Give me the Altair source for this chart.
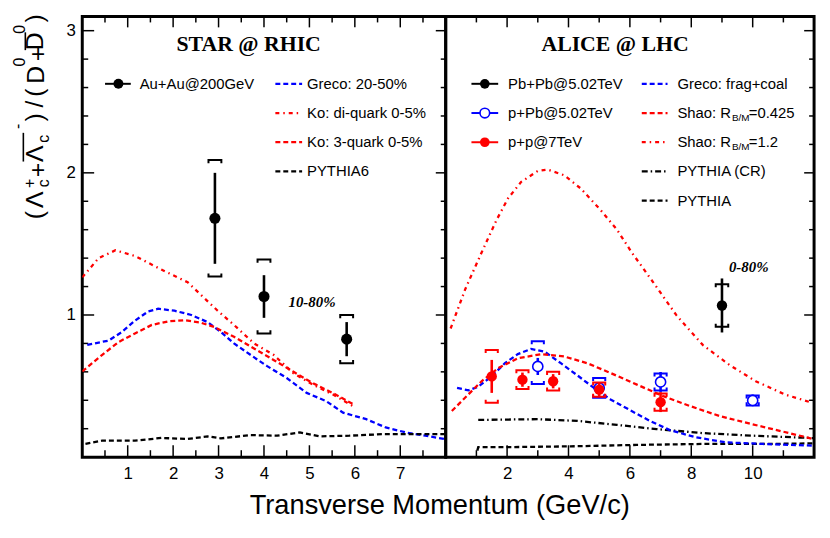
import altair as alt
import pandas as pd

FONT = "Liberation Sans"
SERIF = "Liberation Serif"
RED = "#ff0000"
BLUE = "#0000ff"
BLACK = "#000000"

# ---------------- STAR @ RHIC (left panel) ----------------
star_pt = [2.92, 4.00, 5.82]
star_val = [1.68, 1.13, 0.83]
star_stat = [0.32, 0.15, 0.12]
star_sys = [0.41, 0.26, 0.17]

greco_star_pt = [0.11, 0.58, 0.87, 1.16, 1.45, 1.67, 2.03, 2.40, 2.76, 3.05, 3.34,
                 3.70, 4.07, 4.50, 4.94, 5.37, 5.74, 6.25, 6.68, 7.12, 7.55, 7.99]
greco_star_val = [0.79, 0.82, 0.88, 0.96, 1.025, 1.044, 1.03, 1.00, 0.95, 0.88, 0.80,
                  0.72, 0.64, 0.557, 0.452, 0.394, 0.313, 0.267, 0.209, 0.174, 0.151, 0.127]

ko_di_pt = [0.0, 0.36, 0.73, 1.16, 1.74, 2.32, 2.98, 3.34, 3.78, 4.21, 4.65, 5.08, 5.52, 5.99]
ko_di_val = [1.265, 1.40, 1.455, 1.415, 1.32, 1.23, 1.03, 0.93, 0.80, 0.72, 0.59, 0.51, 0.44, 0.353]

ko3_pt = [0.0, 0.44, 0.80, 1.16, 1.53, 1.89, 2.25, 2.61, 2.90, 3.34, 3.78, 4.21, 4.65, 5.08, 5.52, 5.95]
ko3_val = [0.603, 0.72, 0.81, 0.87, 0.93, 0.955, 0.963, 0.946, 0.916, 0.847, 0.765, 0.684,
           0.60, 0.52, 0.45, 0.375]

pythia6_pt = [0.07, 0.44, 1.16, 1.74, 2.32, 2.76, 3.05, 3.70, 4.29, 4.79, 5.23, 5.88, 6.61, 7.33, 7.99]
pythia6_val = [0.093, 0.116, 0.116, 0.135, 0.128, 0.146, 0.132, 0.155, 0.151, 0.174, 0.146,
               0.151, 0.162, 0.162, 0.162]

# ---------------- ALICE @ LHC (right panel) ----------------
pbpb_pt = [9.0]
pbpb_val = [1.067]
pbpb_stat = [0.19]
pbpb_sys = [0.15]

ppb_pt = [3.0, 5.0, 7.0, 10.0]
ppb_val = [0.638, 0.487, 0.529, 0.399]
ppb_stat = [0.06, 0.04, 0.07, 0.04]
ppb_sys_up = [0.178, 0.07, 0.06, 0.035]
ppb_sys_dn = [0.123, 0.07, 0.06, 0.035]

pp_pt = [1.5, 2.5, 3.5, 5.0, 7.0]
pp_val = [0.568, 0.545, 0.534, 0.475, 0.387]
pp_stat = [0.116, 0.05, 0.05, 0.05, 0.07]
pp_sys = [0.186, 0.066, 0.066, 0.05, 0.06]

greco_alice_pt = [0.37, 0.74, 1.06, 1.49, 1.93, 2.35, 2.78, 3.22, 3.75, 4.29, 4.83, 5.37,
                  6.01, 6.65, 7.30, 8.16, 9.13, 10.31, 11.93]
greco_alice_val = [0.487, 0.470, 0.495, 0.568, 0.661, 0.725, 0.761, 0.742, 0.661, 0.575, 0.487,
                   0.406, 0.330, 0.255, 0.19, 0.139, 0.104, 0.093, 0.081]

shao1_pt = [0.20, 0.63, 1.17, 1.71, 2.35, 3.11, 3.86, 4.61, 5.37, 6.23, 7.09, 7.95, 8.91,
            9.88, 10.96, 11.98]
shao1_val = [0.325, 0.418, 0.534, 0.626, 0.696, 0.724, 0.708, 0.661, 0.592, 0.51, 0.429,
             0.36, 0.29, 0.237, 0.181, 0.127]

shao2_pt = [0.16, 0.64, 1.17, 1.66, 2.03, 2.46, 3.00, 3.32, 3.86, 4.40, 5.04, 5.58, 6.06,
            6.76, 7.52, 8.38, 9.24, 10.10, 11.06, 11.93]
shao2_val = [0.905, 1.183, 1.44, 1.67, 1.82, 1.937, 2.013, 2.023, 1.983, 1.89, 1.74, 1.60,
             1.44, 1.23, 0.997, 0.788, 0.649, 0.534, 0.44, 0.383]

pythia_cr_pt = [1.06, 3.00, 4.29, 5.58, 6.87, 8.38, 9.99, 11.98]
pythia_cr_val = [0.262, 0.267, 0.255, 0.227, 0.197, 0.169, 0.151, 0.134]

pythia_pt = [1.03, 1.06, 1.93, 4.07, 6.23, 8.38, 10.53, 11.98]
pythia_val = [0.046, 0.070, 0.070, 0.076, 0.086, 0.093, 0.093, 0.097]

# axis tick values
y_major = [1, 2, 3]
y_minor = [0.2, 0.4, 0.6, 0.8, 1.2, 1.4, 1.6, 1.8, 2.2, 2.4, 2.6, 2.8]
x1_major = [1, 2, 3, 4, 5, 6, 7]
x1_minor = [0.5, 1.5, 2.5, 3.5, 4.5, 5.5, 6.5, 7.5]
x2_major = [2, 4, 6, 8, 10]
x2_minor = [1, 3, 5, 7, 9, 11]

# ---------------- layout / style ----------------
W1, W2, H = 367, 372, 445
LW = 2.3
DASH = [5, 3]
DASHDOT = [4, 4, 1.5, 4]
DASHDOT2 = [6, 3, 1.5, 3]
TOP = "M -1 0.5 L -1 0 L 1 0 L 1 0.5"
BOT = "M -1 -0.5 L -1 0 L 1 0 L 1 -0.5"

ysc = alt.Scale(domain=[0, 3.1], nice=False, zero=False)
xs1 = alt.Scale(domain=[0, 8], nice=False, zero=False)
xs2 = alt.Scale(domain=[0, 12], nice=False, zero=False)


def xaxis(vals):
    return alt.Axis(values=vals, ticks=False, tickSize=0, domain=False, grid=False,
                    labelFontSize=17, labelPadding=9, labelFont=FONT, labelColor=BLACK,
                    format="d", title=None)


yaxis_left = alt.Axis(values=y_major, ticks=False, tickSize=0, domain=False, grid=False,
                      labelFontSize=17, labelPadding=7, labelFont=FONT, labelColor=BLACK,
                      format="d", title=None)


def make_enc(xscale, xvals, yaxis):
    def X(f):
        return alt.X(f"{f}:Q", scale=xscale, axis=xaxis(xvals))

    def Y(f):
        if yaxis is None:
            return alt.Y(f"{f}:Q", scale=ysc, axis=None)
        return alt.Y(f"{f}:Q", scale=ysc, axis=yaxis)
    return X, Y


one = pd.DataFrame({"k": [0]})


def txt(s, x, y, size=15, font=FONT, weight="normal", style="normal", align="left",
        baseline="middle", angle=0, color=BLACK):
    return alt.Chart(one).mark_text(text=s, fontSize=size, font=font, fontWeight=weight,
                                    fontStyle=style, align=align, baseline=baseline,
                                    angle=angle, color=color).encode(
        x=alt.value(x), y=alt.value(y))


def lline(x1, x2, y, color, dash=None, width=LW):
    kw = dict(color=color, strokeWidth=width)
    if dash is not None:
        kw["strokeDash"] = dash
    return alt.Chart(one).mark_rule(**kw).encode(x=alt.value(x1), x2=alt.value(x2), y=alt.value(y))


def vline(x, y1, y2, width=1.6):
    return alt.Chart(one).mark_rule(color=BLACK, strokeWidth=width).encode(
        x=alt.value(x), y=alt.value(y1), y2=alt.value(y2))


def lmarker(x, y, color, filled=True, size=100):
    if filled:
        m = alt.Chart(one).mark_point(shape="circle", filled=True, color=color, size=size, opacity=1)
    else:
        m = alt.Chart(one).mark_point(shape="circle", filled=True, fill="white", stroke=color,
                                      strokeWidth=1.6, size=size, opacity=1)
    return m.encode(x=alt.value(x), y=alt.value(y))


def curve(xs, ys, color, dash, X, Y):
    df = pd.DataFrame({"x": xs, "y": ys})
    df["i"] = range(len(df))
    return alt.Chart(df).mark_line(color=color, strokeDash=dash, strokeWidth=LW, clip=True).encode(
        x=X("x"), y=Y("y"), order="i:Q")


def series(xs, ys, stat, sup, sdn, color, X, Y, filled=True, size=110, bsize=169):
    df = pd.DataFrame({"x": xs, "y": ys, "stat": stat, "sup": sup, "sdn": sdn})
    df["lo"] = df["y"] - df["stat"]
    df["hi"] = df["y"] + df["stat"]
    df["st"] = df["y"] + df["sup"]
    df["sb"] = df["y"] - df["sdn"]
    base = alt.Chart(df)
    err = base.mark_rule(color=color, strokeWidth=2.6).encode(x=X("x"), y=Y("lo"), y2=alt.Y2("hi"))
    btop = base.mark_point(shape=TOP, size=bsize, filled=False, color=color, strokeWidth=2,
                           opacity=1).encode(x=X("x"), y=Y("st"))
    bbot = base.mark_point(shape=BOT, size=bsize, filled=False, color=color, strokeWidth=2,
                           opacity=1).encode(x=X("x"), y=Y("sb"))
    if filled:
        pt = base.mark_point(shape="circle", filled=True, color=color, size=size, opacity=1)
    else:
        pt = base.mark_point(shape="circle", filled=True, fill="white", stroke=color,
                             strokeWidth=1.6, size=size, opacity=1)
    pt = pt.encode(x=X("x"), y=Y("y"))
    return [err, btop, bbot, pt]


def ticks(X, Y, W, xmaj, xmin, left=True):
    out = []
    ymj = pd.DataFrame({"v": y_major})
    ymn = pd.DataFrame({"v": y_minor})
    xmj = pd.DataFrame({"v": xmaj})
    xmn = pd.DataFrame({"v": xmin})
    r = dict(color=BLACK, strokeWidth=1.5)
    if left:
        out.append(alt.Chart(ymj).mark_rule(**r).encode(y=Y("v"), x=alt.value(0), x2=alt.value(12)))
        out.append(alt.Chart(ymn).mark_rule(**r).encode(y=Y("v"), x=alt.value(0), x2=alt.value(6)))
    out.append(alt.Chart(ymj).mark_rule(**r).encode(y=Y("v"), x=alt.value(W - 10), x2=alt.value(W)))
    out.append(alt.Chart(ymn).mark_rule(**r).encode(y=Y("v"), x=alt.value(W - 5), x2=alt.value(W)))
    out.append(alt.Chart(xmj).mark_rule(**r).encode(x=X("v"), y=alt.value(H - 12), y2=alt.value(H)))
    out.append(alt.Chart(xmn).mark_rule(**r).encode(x=X("v"), y=alt.value(H - 7), y2=alt.value(H)))
    out.append(alt.Chart(xmj).mark_rule(**r).encode(x=X("v"), y=alt.value(0), y2=alt.value(11)))
    out.append(alt.Chart(xmn).mark_rule(**r).encode(x=X("v"), y=alt.value(0), y2=alt.value(6)))
    return out


# ---------------- left panel ----------------
X1, Y1 = make_enc(xs1, x1_major, yaxis_left)
L = []
L += ticks(X1, Y1, W1, x1_major, x1_minor, left=True)
L.append(curve(greco_star_pt, greco_star_val, BLUE, DASH, X1, Y1))
L.append(curve(ko_di_pt, ko_di_val, RED, DASHDOT, X1, Y1))
L.append(curve(ko3_pt, ko3_val, RED, DASH, X1, Y1))
L.append(curve(pythia6_pt, pythia6_val, BLACK, DASH, X1, Y1))
L += series(star_pt, star_val, star_stat, star_sys, star_sys, BLACK, X1, Y1, size=125)

L.append(txt("STAR @ RHIC", 168, 28, size=22, font=SERIF, weight="bold", align="center"))
L.append(txt("10-80%", 232, 288, size=15, font=SERIF, weight="bold", style="italic", align="center"))

# legend (left)
L.append(lline(23, 49, 68, BLACK, width=2))
L.append(lmarker(36.5, 68, BLACK))
L.append(txt("Au+Au@200GeV", 58, 68))
legL = [("Greco: 20-50%", BLUE, DASH), ("Ko: di-quark 0-5%", RED, DASHDOT),
        ("Ko: 3-quark 0-5%", RED, DASH), ("PYTHIA6", BLACK, DASH)]
for k, (lab, col, d) in enumerate(legL):
    yy = 68 + 29.5 * k
    L.append(lline(195, 222, yy, col, d))
    L.append(txt(lab, 227, yy))

# y-axis title, built from pieces (rotated)
pieces = [("(", -48, 200.5, 25), ("Λ", -47.5, 185, 25), ("c", -38.5, 168.5, 16), ("+", -52.5, 168.5, 16),
          ("+", -45, 155, 25), ("Λ", -47.5, 138.5, 25), ("c", -38.5, 123.5, 16), ("-", -65, 111, 16),
          (")", -47.5, 102, 25), ("/", -47.5, 88.5, 25), ("(", -47.5, 77, 25), ("D", -46.5, 59, 25),
          ("0", -63, 46, 16), ("+", -45, 38, 25), ("D", -47.5, 25, 25), ("0", -63, 13, 16),
          (")", -47.5, 2, 25)]
for s, px, py, fs in pieces:
    L.append(txt(s, px, py, size=fs, align="center", baseline="middle", angle=270))
L.append(vline(-59.5, 117.5, 146.5))
L.append(vline(-57.5, 16, 34))

# x-axis title (spans both panels)
L.append(txt("Transverse Momentum (GeV/c)", 361, 502, size=27.5, align="center", baseline="alphabetic"))

left = alt.layer(*L).properties(width=W1, height=H)

# ---------------- right panel ----------------
X2, Y2 = make_enc(xs2, x2_major, None)
R = []
R += ticks(X2, Y2, W2, x2_major, x2_minor, left=False)
R.append(curve(shao2_pt, shao2_val, RED, DASHDOT, X2, Y2))
R.append(curve(pythia_cr_pt, pythia_cr_val, BLACK, DASHDOT2, X2, Y2))
R.append(curve(pythia_pt, pythia_val, BLACK, DASH, X2, Y2))
R.append(curve(greco_alice_pt, greco_alice_val, BLUE, DASH, X2, Y2))
R.append(curve(shao1_pt, shao1_val, RED, DASH, X2, Y2))
R += series(pbpb_pt, pbpb_val, pbpb_stat, pbpb_sys, pbpb_sys, BLACK, X2, Y2, size=110, bsize=160)
R += series(ppb_pt, ppb_val, ppb_stat, ppb_sys_up, ppb_sys_dn, BLUE, X2, Y2, filled=False, size=105, bsize=150)
R += series(pp_pt, pp_val, pp_stat, pp_sys, pp_sys, RED, X2, Y2, size=110, bsize=150)

R.append(txt("ALICE @ LHC", 171, 28, size=22, font=SERIF, weight="bold", align="center"))
R.append(txt("0-80%", 306, 253, size=15, font=SERIF, weight="bold", style="italic", align="center"))

# legend (right) - data
legD = [("Pb+Pb@5.02TeV", BLACK, True), ("p+Pb@5.02TeV", BLUE, False), ("p+p@7TeV", RED, True)]
for k, (lab, col, f) in enumerate(legD):
    yy = 68 + 29.5 * k
    R.append(lline(26, 53, yy, col, width=2))
    R.append(lmarker(39.5, yy, col, filled=f, size=95))
    R.append(txt(lab, 63, yy))

# legend (right) - models
legM = [("Greco: frag+coal", BLUE, DASH), (None, RED, DASH), (None, RED, DASHDOT),
        ("PYTHIA (CR)", BLACK, DASHDOT2), ("PYTHIA", BLACK, DASH)]
shao_vals = {1: "=0.425", 2: "=1.2"}
for k, (lab, col, d) in enumerate(legM):
    yy = 68 + 29.5 * k
    R.append(lline(198, 224, yy, col, d))
    if lab is None:
        R.append(txt("Shao: R", 234, yy))
        R.append(txt("B/M", 289, yy + 5, size=10))
        R.append(txt(shao_vals[k], 306, yy))
    else:
        R.append(txt(lab, 234, yy))

right = alt.layer(*R).properties(width=W2, height=H)

chart = alt.hconcat(left, right, spacing=0, bounds="flush").properties(
    padding={"left": 0, "top": 2, "right": 5, "bottom": 5}
).configure_view(stroke=BLACK, strokeWidth=3).configure_axis(grid=False)

chart.save("out.html", embed_options={"renderer": "svg", "actions": False})
